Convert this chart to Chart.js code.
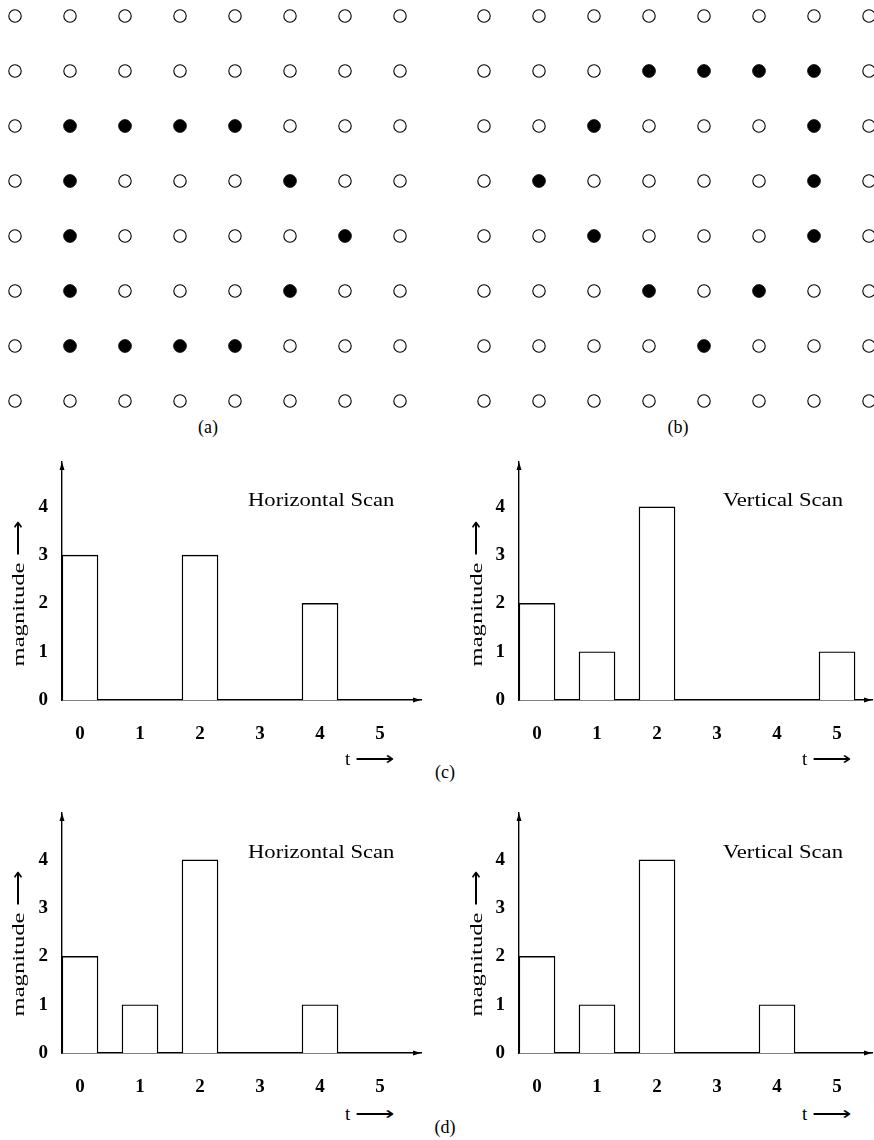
<!DOCTYPE html>
<html>
<head>
<meta charset="utf-8">
<script src="https://cdn.jsdelivr.net/npm/chart.js@4/dist/chart.umd.min.js"></script>
<style>
body { margin: 0; background: #fff; width: 874px; height: 1140px; position: relative; overflow: hidden; }
canvas { position: absolute; }
.lbl { position: absolute; font-family: "Liberation Serif", "Times New Roman", serif; color: #000; white-space: nowrap; line-height: 1; }
.mid { transform: translate(-50%, -50%); }
.rot { transform: translate(-50%, -50%) rotate(-90deg) scaleX(1.45); font-size: 17px; }
.scan { font-size: 19.5px; transform: translateY(-50%) scaleX(1.16); transform-origin: left center; }
.t { font-size: 19px; transform: translateY(-50%); }
.arr { display: inline-block; transform: scaleX(1.45); transform-origin: left center; }
</style>
</head>
<body>

<canvas id="gridA" width="437" height="415" style="left:0;top:0"></canvas>
<canvas id="gridB" width="434" height="415" style="left:440px;top:0"></canvas>
<canvas id="scanC1" width="437" height="300" style="left:0;top:450px"></canvas>
<canvas id="scanC2" width="434" height="300" style="left:440px;top:450px"></canvas>
<canvas id="scanD1" width="437" height="300" style="left:0;top:800px"></canvas>
<canvas id="scanD2" width="434" height="300" style="left:440px;top:800px"></canvas>

<div class="lbl mid" style="left:208px;top:427px;font-size:18px">(a)</div>
<div class="lbl mid" style="left:678px;top:427px;font-size:18px">(b)</div>
<div class="lbl mid" style="left:445px;top:772px;font-size:18px">(c)</div>
<div class="lbl mid" style="left:445px;top:1127px;font-size:18px">(d)</div>

<div class="lbl scan" style="left:248px;top:500px">Horizontal Scan</div>
<div class="lbl scan" style="left:723px;top:500px">Vertical Scan</div>
<div class="lbl scan" style="left:248px;top:852px">Horizontal Scan</div>
<div class="lbl scan" style="left:723px;top:852px">Vertical Scan</div>

<div class="lbl rot" style="left:18px;top:594px">magnitude &#x27F6;</div>
<div class="lbl rot" style="left:476px;top:594px">magnitude &#x27F6;</div>
<div class="lbl rot" style="left:18px;top:944px">magnitude &#x27F6;</div>
<div class="lbl rot" style="left:476px;top:944px">magnitude &#x27F6;</div>

<div class="lbl t" style="left:345px;top:758px">t <span class="arr">&#x27F6;</span></div>
<div class="lbl t" style="left:802px;top:758px">t <span class="arr">&#x27F6;</span></div>
<div class="lbl t" style="left:345px;top:1113px">t <span class="arr">&#x27F6;</span></div>
<div class="lbl t" style="left:802px;top:1113px">t <span class="arr">&#x27F6;</span></div>

<script>
// 8x8 pixel grids, '#' = filled dot
const gridA = [
    "........",
    "........",
    ".####...",
    ".#...#..",
    ".#....#.",
    ".#...#..",
    ".####...",
    "........"
];
const gridB = [
    "........",
    "...####.",
    "..#...#.",
    ".#....#.",
    "..#...#.",
    "...#.#..",
    "....#...",
    "........"
];

// scan magnitudes per t
const tValues = [0, 1, 2, 3, 4, 5];
const horizC = [3, 0, 3, 0, 2, 0];
const vertC = [2, 1, 4, 0, 0, 1];
const horizD = [2, 1, 4, 0, 1, 0];
const vertD = [2, 1, 4, 0, 1, 0];
const magTicks = [0, 1, 2, 3, 4];

const SERIF = "'Liberation Serif', 'Times New Roman', serif";
const SPACING = 55;

function cells(pattern, ch) {
    const pts = [];
    pattern.forEach((row, r) => {
        [...row].forEach((c, col) => {
            if (c === ch) pts.push({ x: col, y: r });
        });
    });
    return pts;
}

function makeGrid(id, pattern, x0, y0, w, h) {
    const xmin = -x0 / SPACING;
    const ymin = -y0 / SPACING;
    new Chart(document.getElementById(id), {
        type: "scatter",
        data: {
            datasets: [{
                data: cells(pattern, "."),
                pointRadius: 6.2,
                pointBorderWidth: 1.1,
                pointBackgroundColor: "#fff",
                pointBorderColor: "#000",
                clip: false
            }, {
                data: cells(pattern, "#"),
                pointRadius: 6.4,
                pointBorderWidth: 0.8,
                pointBackgroundColor: "#000",
                pointBorderColor: "#000",
                clip: false
            }]
        },
        options: {
            responsive: false,
            animation: false,
            events: [],
            layout: { padding: 0, autoPadding: false },
            plugins: { legend: { display: false }, tooltip: { enabled: false } },
            scales: {
                x: { type: "linear", display: false, min: xmin, max: xmin + w / SPACING },
                y: { type: "linear", display: false, reverse: true, min: ymin, max: ymin + h / SPACING }
            }
        }
    });
}

const axisArrows = {
    id: "axisArrows",
    afterDraw(chart) {
        const { ctx, chartArea: a } = chart;
        ctx.save();
        ctx.fillStyle = "#000";
        ctx.beginPath();
        ctx.moveTo(a.left, a.top);
        ctx.lineTo(a.left - 2.5, a.top + 8);
        ctx.lineTo(a.left + 2.5, a.top + 8);
        ctx.closePath();
        ctx.fill();
        ctx.beginPath();
        ctx.moveTo(a.right, a.bottom);
        ctx.lineTo(a.right - 8, a.bottom - 2.5);
        ctx.lineTo(a.right - 8, a.bottom + 2.5);
        ctx.closePath();
        ctx.fill();
        ctx.restore();
    }
};

function makeScan(id, values, o) {
    new Chart(document.getElementById(id), {
        type: "bar",
        data: {
            datasets: [{
                data: values.map((v, i) => ({ x: tValues[i], y: v })),
                backgroundColor: "#fff",
                borderColor: "#000",
                borderWidth: 1.4,
                barThickness: 36
            }]
        },
        options: {
            responsive: false,
            animation: false,
            events: [],
            layout: { padding: { top: o.top, right: o.right, left: 0, bottom: 0 }, autoPadding: false },
            plugins: { legend: { display: false }, tooltip: { enabled: false } },
            scales: {
                x: {
                    type: "linear",
                    offset: false,
                    min: -0.3,
                    max: o.xmax,
                    afterFit: (s) => { s.height = o.xh; s.paddingLeft = 0; s.paddingRight = 0; },
                    afterBuildTicks: (s) => { s.ticks = tValues.map(v => ({ value: v })); },
                    grid: { display: false, drawTicks: false },
                    border: { display: true, color: "#000", width: 1.4 },
                    ticks: { color: "#000", padding: 23, font: { family: SERIF, size: 19, weight: "bold" } }
                },
                y: {
                    min: 0,
                    max: o.ymax,
                    afterFit: (s) => { s.width = o.yw; s.paddingTop = 0; s.paddingBottom = 0; },
                    afterBuildTicks: (s) => { s.ticks = magTicks.map(v => ({ value: v })); },
                    grid: { display: false, drawTicks: false },
                    border: { display: true, color: "#000", width: 1.4 },
                    ticks: { color: "#000", padding: 14, font: { family: SERIF, size: 19, weight: "bold" } }
                }
            }
        },
        plugins: [axisArrows]
    });
}

makeGrid("gridA", gridA, 15, 16, 437, 415);
makeGrid("gridB", gridB, 44, 16, 434, 415);

makeScan("scanC1", horizC, { top: 12, right: 16, yw: 62, xh: 50, xmax: 5.683, ymax: 4.93 });
makeScan("scanC2", vertC, { top: 12, right: 2, yw: 79, xh: 50, xmax: 5.583, ymax: 4.93 });
makeScan("scanD1", horizD, { top: 13, right: 16, yw: 62, xh: 47, xmax: 5.683, ymax: 4.97 });
makeScan("scanD2", vertD, { top: 13, right: 2, yw: 79, xh: 47, xmax: 5.583, ymax: 4.97 });
</script>
</body>
</html>
